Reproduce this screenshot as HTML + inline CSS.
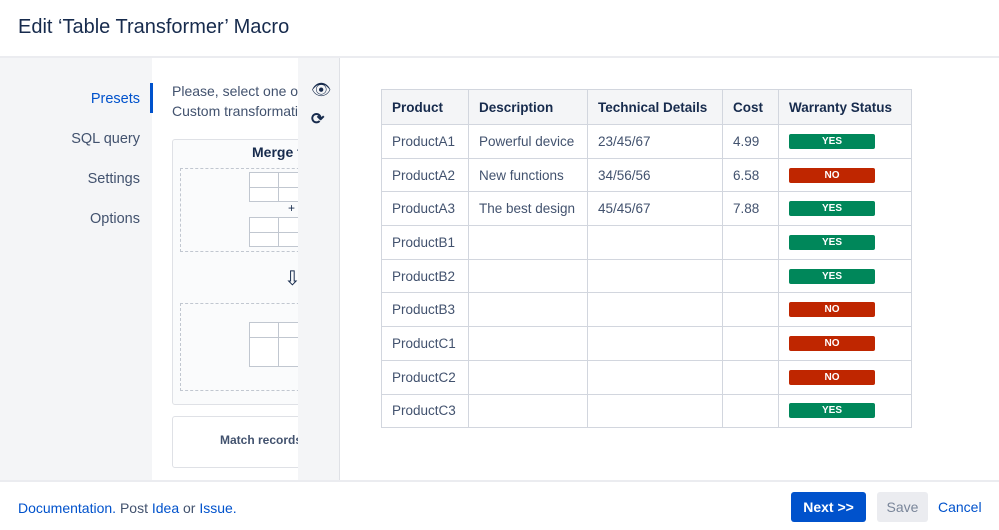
<!DOCTYPE html>
<html><head><style>
*{box-sizing:border-box;margin:0;padding:0}
body{width:999px;height:530px;overflow:hidden;background:#fff;font-family:"Liberation Sans",sans-serif;color:#172b4d;position:relative}
.a{position:absolute}
table{table-layout:fixed}
td,th{border:1px solid #d2d6de;font-size:14px;text-align:left;padding:0 10px;white-space:nowrap;overflow:hidden}
th{background:#f4f5f7;font-weight:bold;height:35px;font-size:13.5px}
td{height:33.7px;color:#42526e;font-size:13.5px}
.b{display:block;width:86px;height:15px;border-radius:2px;color:#fff;font-size:10px;font-weight:bold;text-align:center;line-height:16px}
.y{background:#00875a}.n{background:#bf2600}
.mini{position:absolute;border:1px solid #c1c7d0;background:#fff;background-image:linear-gradient(#c1c7d0,#c1c7d0),linear-gradient(#c1c7d0,#c1c7d0);background-size:1px 100%,100% 1px;background-position:28px 0,0 14px;background-repeat:no-repeat}
</style></head><body>
<div class="a" style="left:18px;top:16px;font-size:20px">Edit ‘Table Transformer’ Macro</div>
<div class="a" style="left:0;top:56px;width:999px;height:2px;background:#ebecf0"></div>
<div class="a" style="left:0;top:58px;width:152px;height:422px;background:#f4f5f7"></div>
<div class="a" style="left:150px;top:83px;width:3px;height:30px;background:#0052cc"></div>
<div class="a" style="left:0;top:91px;width:140px;text-align:right;font-size:14.5px;color:#0052cc">Presets</div>
<div class="a" style="left:0;top:131px;width:140px;text-align:right;font-size:14.5px;color:#42526e">SQL query</div>
<div class="a" style="left:0;top:171px;width:140px;text-align:right;font-size:14.5px;color:#42526e">Settings</div>
<div class="a" style="left:0;top:211px;width:140px;text-align:right;font-size:14.5px;color:#42526e">Options</div>
<div class="a" style="left:172px;top:81px;font-size:14px;color:#42526e;line-height:20px;width:126px;overflow:hidden;white-space:nowrap">Please, select one of<br>Custom transformations</div>
<div class="a" style="left:172px;top:139px;width:140px;height:266px;border:1px solid #dfe1e6;border-radius:3px;background:#fafbfc"></div>
<div class="a" style="left:252px;top:144px;font-size:14px;font-weight:bold">Merge t</div>
<div class="a" style="left:180px;top:168px;width:130px;height:84px;border:1px dashed #c1c7d0"></div>
<div class="mini" style="left:249px;top:172px;width:60px;height:30px"></div>
<div class="mini" style="left:249px;top:217px;width:60px;height:30px"></div>
<div class="a" style="left:288px;top:201px;font-size:12px">+</div>
<div class="a" style="left:284px;top:266px;font-size:20px">⇩</div>
<div class="a" style="left:180px;top:303px;width:130px;height:88px;border:1px dashed #c1c7d0"></div>
<div class="mini" style="left:249px;top:322px;width:60px;height:45px"></div>
<div class="a" style="left:172px;top:416px;width:140px;height:52px;border:1px solid #dfe1e6;border-radius:3px"></div>
<div class="a" style="left:220px;top:433px;font-size:12px;font-weight:bold;color:#42526e">Match records</div>
<div class="a" style="left:298px;top:58px;width:42px;height:422px;background:#f4f5f7;border-right:1px solid #dfe1e6"></div>
<div class="a" style="left:311px;top:80px;font-size:16px">👁</div>
<div class="a" style="left:311px;top:109px;font-size:16px;font-weight:bold">⟳</div>
<table class="a" style="left:381px;top:89px;border-collapse:collapse;width:530px">
<colgroup><col style="width:87px"><col style="width:119px"><col style="width:135px"><col style="width:56px"><col style="width:133px"></colgroup>
<tr><th>Product</th><th>Description</th><th>Technical Details</th><th>Cost</th><th>Warranty Status</th></tr>
<tr><td>ProductA1</td><td>Powerful device</td><td>23/45/67</td><td>4.99</td><td><span class="b y">YES</span></td></tr>
<tr><td>ProductA2</td><td>New functions</td><td>34/56/56</td><td>6.58</td><td><span class="b n">NO</span></td></tr>
<tr><td>ProductA3</td><td>The best design</td><td>45/45/67</td><td>7.88</td><td><span class="b y">YES</span></td></tr>
<tr><td>ProductB1</td><td></td><td></td><td></td><td><span class="b y">YES</span></td></tr>
<tr><td>ProductB2</td><td></td><td></td><td></td><td><span class="b y">YES</span></td></tr>
<tr><td>ProductB3</td><td></td><td></td><td></td><td><span class="b n">NO</span></td></tr>
<tr><td>ProductC1</td><td></td><td></td><td></td><td><span class="b n">NO</span></td></tr>
<tr><td>ProductC2</td><td></td><td></td><td></td><td><span class="b n">NO</span></td></tr>
<tr><td>ProductC3</td><td></td><td></td><td></td><td><span class="b y">YES</span></td></tr>
</table>
<div class="a" style="left:0;top:480px;width:999px;height:2px;background:#ebecf0"></div>
<div class="a" style="left:18px;top:500px;font-size:14px;color:#42526e"><span style="color:#0052cc">Documentation.</span> Post <span style="color:#0052cc">Idea</span> or <span style="color:#0052cc">Issue.</span></div>
<div class="a" style="left:791px;top:492px;width:75px;height:30px;background:#0052cc;border-radius:3px;color:#fff;font-size:14px;font-weight:bold;text-align:center;line-height:30px">Next &gt;&gt;</div>
<div class="a" style="left:877px;top:492px;width:51px;height:30px;background:#ebecf0;border-radius:3px;color:#7a869a;font-size:14px;text-align:center;line-height:30px">Save</div>
<div class="a" style="left:938px;top:499px;font-size:14px;color:#0052cc">Cancel</div>
</body></html>
